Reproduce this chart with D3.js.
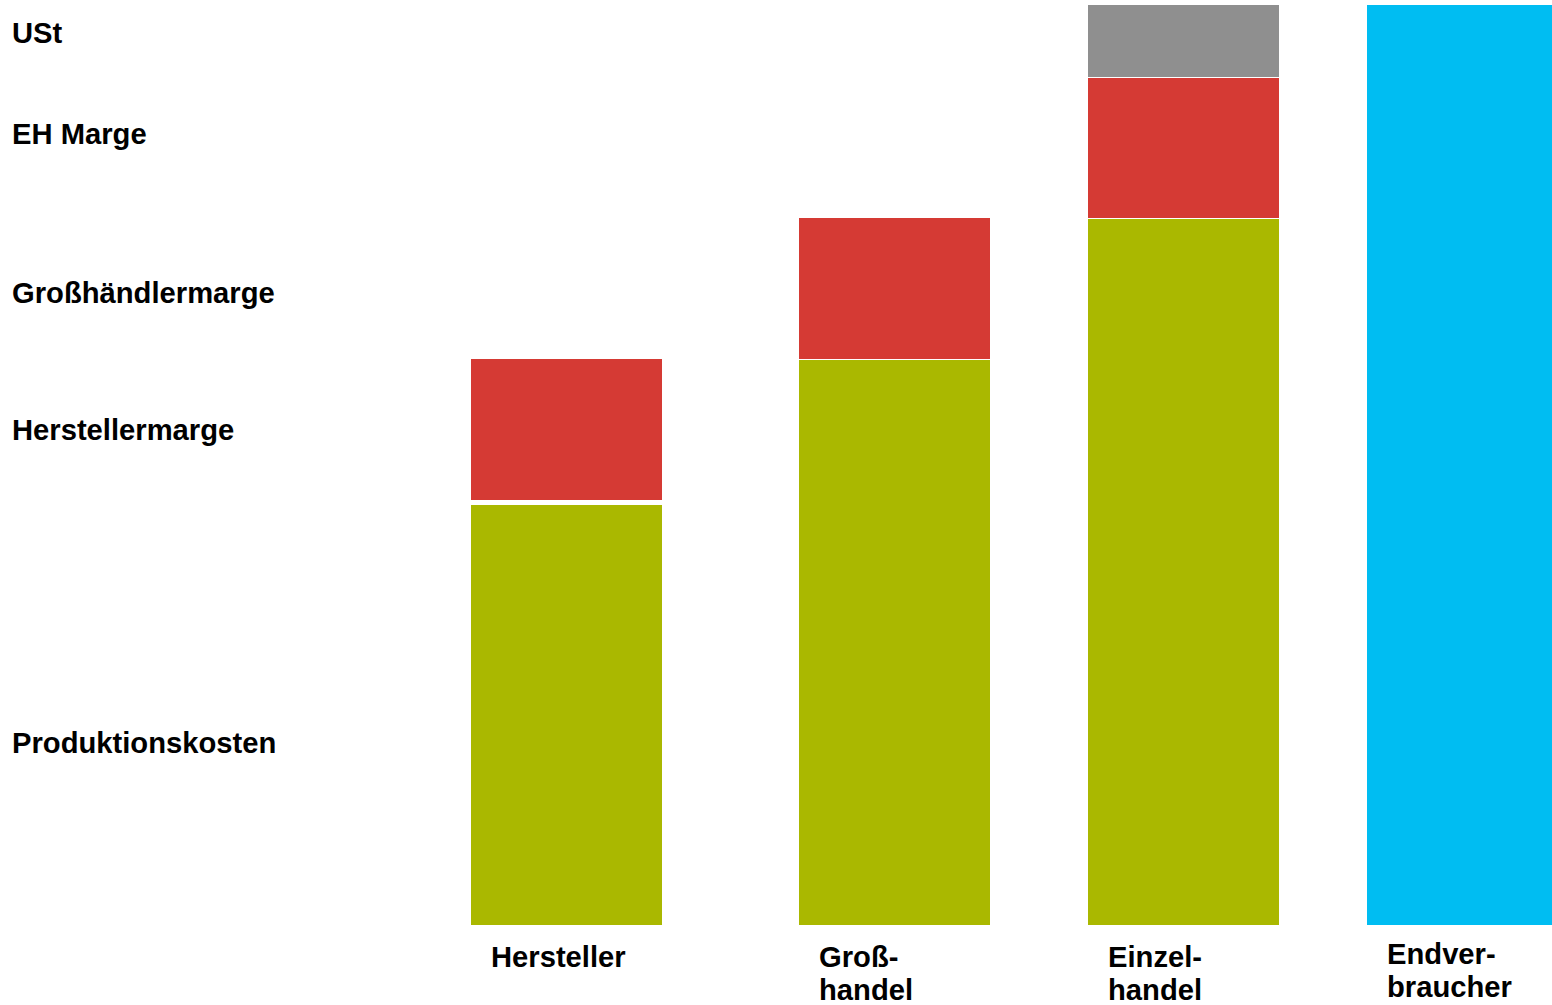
<!DOCTYPE html>
<html>
<head>
<meta charset="utf-8">
<script src="https://cdn.jsdelivr.net/npm/d3@7"></script>
<style>
  body { margin: 0; background: #fff; }
  text { font-family: "Liberation Sans", Arial, sans-serif; font-weight: bold; fill: #000; }
</style>
</head>
<body>
<div id="chart"></div>
<script>
// Stufen der Preisbildung
var categories = ["Hersteller", "Großhandel", "Einzelhandel", "Endverbraucher"];
// Achsen-Beschriftung unten (mit Trennung)
var categoryLabels = [["Hersteller"], ["Groß-", "handel"], ["Einzel-", "handel"], ["Endver-", "braucher"]];

// Werte (relative Einheiten)
var kosten = [425, 566, 707, 0];      // Produktionskosten / Einkaufspreis
var marge = [141, 141, 141, 0];       // Marge der Stufe
var ust = [0, 0, 72, 0];              // Umsatzsteuer
var endpreis = [0, 0, 0, 920];        // Endverbraucherpreis

// Beschriftungen links
var legendLabels = ["USt", "EH Marge", "Großhändlermarge", "Herstellermarge", "Produktionskosten"];
var legendY = [43, 144, 303, 440, 753];

var W = 1552, H = 1005;

var svg = d3.select("#chart")
	.append("svg")
	.attr("width", W)
	.attr("height", H);

var y = d3.scaleLinear()
	.domain([0, 920])
	.range([925, 5]);

var x = d3.scaleOrdinal()
	.domain(categories)
	.range([471, 799, 1088, 1367]);

var barWidth = 191;

// build segment data (pad = white gap at the top of a segment)
var segData = [];
categories.forEach(function(c, i) {
	var base = 0;
	if (kosten[i] > 0) {
		segData.push({ cat: c, y0: base, y1: base + kosten[i], color: "#AAB800", pad: (i == 0) ? 5 : 1 });
		base += kosten[i];
	}
	if (marge[i] > 0) {
		segData.push({ cat: c, y0: base, y1: base + marge[i], color: "#D53A34", pad: ust[i] > 0 ? 1 : 0 });
		base += marge[i];
	}
	if (ust[i] > 0) {
		segData.push({ cat: c, y0: base, y1: base + ust[i], color: "#8F8F8F", pad: 0 });
		base += ust[i];
	}
	if (endpreis[i] > 0) {
		segData.push({ cat: c, y0: base, y1: base + endpreis[i], color: "#00BDF2", pad: 0 });
	}
});

svg.selectAll(".seg")
	.data(segData)
	.enter().append("rect")
	.attr("class", "seg")
	.attr("x", function(d) { return x(d.cat); })
	.attr("y", function(d) { return y(d.y1) + d.pad; })
	.attr("width", barWidth)
	.attr("height", function(d) { return y(d.y0) - y(d.y1) - d.pad; })
	.style("fill", function(d) { return d.color; });

// Kategorien unten
var catG = svg.selectAll(".cat")
	.data(categories)
	.enter().append("text")
	.attr("class", "cat")
	.attr("x", function(d) { return x(d) + 20; })
	.attr("y", function(d, i) { return i == 3 ? 964 : 967; })
	.style("font-size", "29.2px");

catG.selectAll("tspan")
	.data(function(d, i) { return categoryLabels[i]; })
	.enter().append("tspan")
	.attr("x", function() { return +d3.select(this.parentNode).attr("x"); })
	.attr("dy", function(d, i) { return i == 0 ? 0 : 33; })
	.text(function(d) { return d; });

// Legende links
svg.selectAll(".leg")
	.data(legendLabels)
	.enter().append("text")
	.attr("class", "leg")
	.attr("x", 12)
	.attr("y", function(d, i) { return legendY[i]; })
	.style("font-size", "29.2px")
	.text(function(d) { return d; });
</script>
</body>
</html>
